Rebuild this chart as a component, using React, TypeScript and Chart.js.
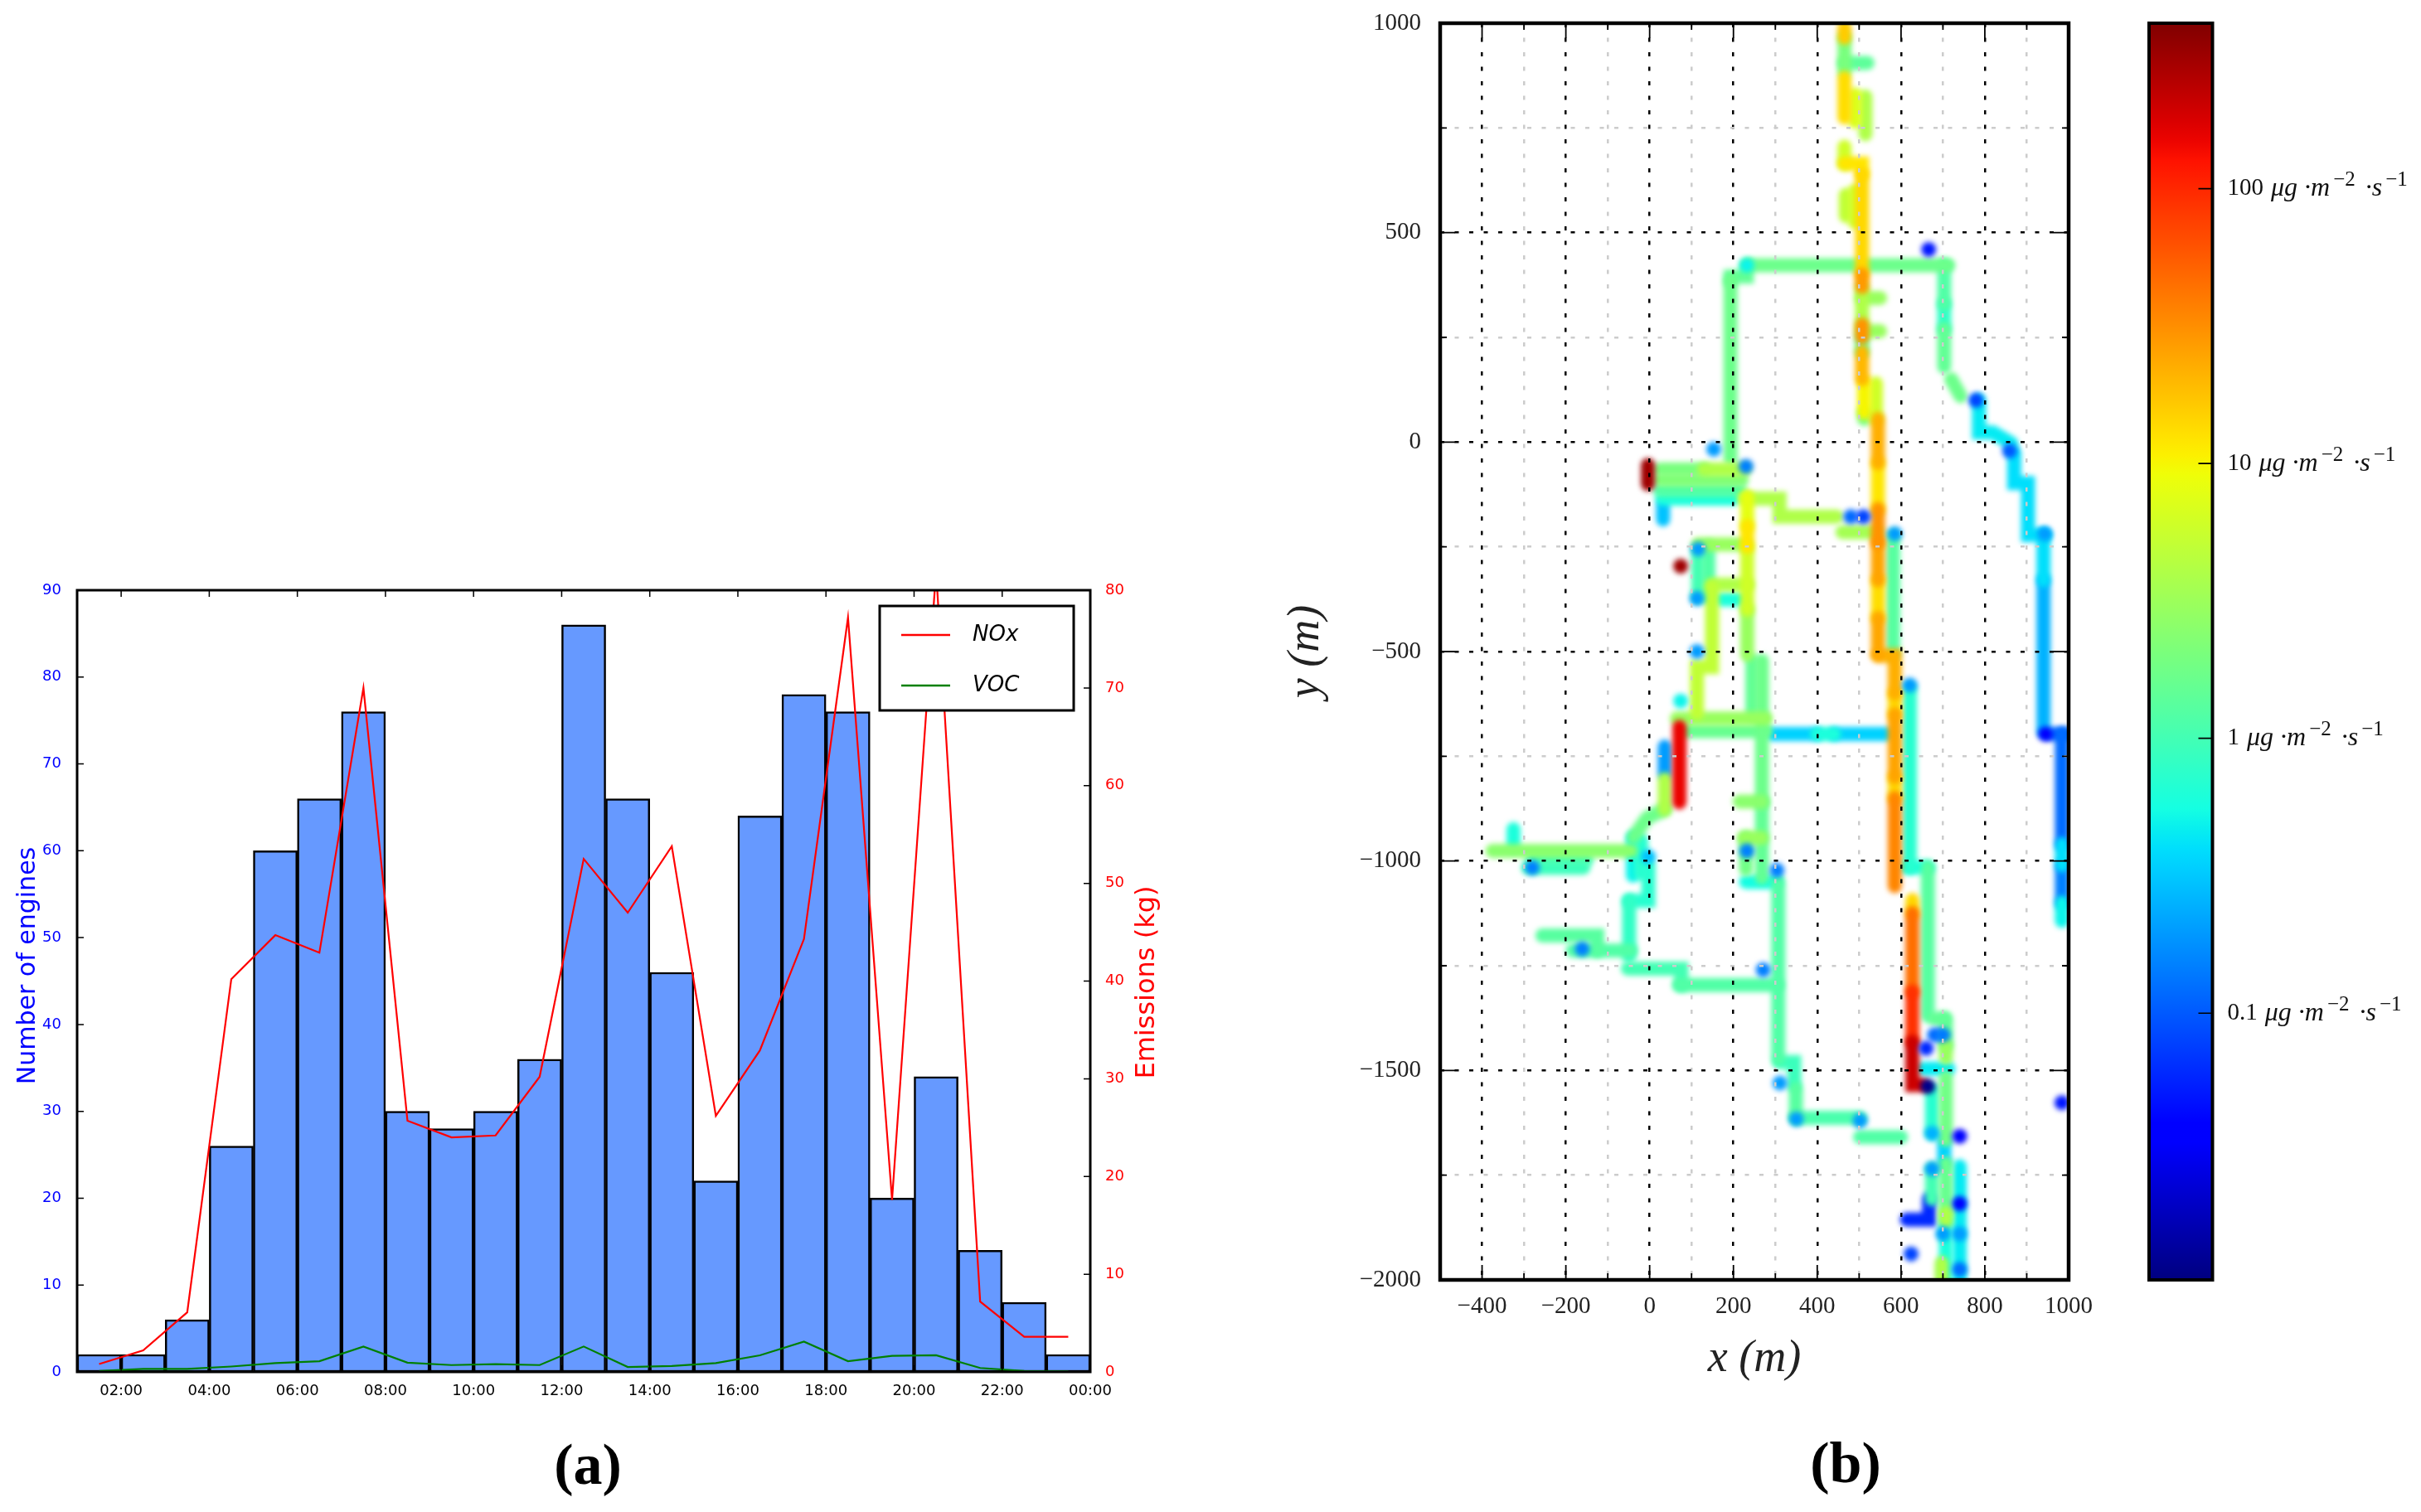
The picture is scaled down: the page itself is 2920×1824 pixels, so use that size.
import { useEffect, useRef } from "react"
import { Chart, registerables } from "chart.js"

Chart.register(...registerables)

// panel (a)
const hourCenters = [1.5, 2.5, 3.5, 4.5, 5.5, 6.5, 7.5, 8.5, 9.5, 10.5, 11.5, 12.5, 13.5, 14.5, 15.5, 16.5, 17.5, 18.5, 19.5, 20.5, 21.5, 22.5, 23.5]
const engines = [2, 2, 6, 26, 60, 66, 76, 30, 28, 30, 36, 86, 66, 46, 22, 64, 78, 76, 20, 34, 14, 8, 2]
const nox = [0.8, 2.2, 6.1, 40.2, 44.7, 42.9, 70, 25.7, 24, 24.2, 30.2, 52.5, 47, 53.8, 26.2, 32.9, 44.3, 77.2, 17.6, 82, 7.2, 3.6, 3.6]
const voc = [0.1, 0.3, 0.3, 0.55, 0.9, 1.1, 2.6, 0.95, 0.7, 0.8, 0.7, 2.6, 0.5, 0.6, 0.9, 1.7, 3.1, 1.1, 1.65, 1.7, 0.4, 0.1, 0.05]
const hourTicks = [2, 4, 6, 8, 10, 12, 14, 16, 18, 20, 22, 24]
const hourLabels = ["02:00", "04:00", "06:00", "08:00", "10:00", "12:00", "14:00", "16:00", "18:00", "20:00", "22:00", "00:00"]

// panel (b): emission traces, v in ug/m2/s, points in metres
type Trace = { v: number; p: number[][] }

const northRoad: Trace[] = [
  { v: 16, p: [[465, 990], [465, 965]] },
  { v: 2, p: [[465, 965], [465, 885]] },
  { v: 1.4, p: [[465, 905], [520, 905]] },
  { v: 13, p: [[465, 870], [465, 775]] },
  { v: 7, p: [[490, 830], [490, 765]] },
  { v: 4, p: [[515, 825], [515, 735]] },
  { v: 6, p: [[465, 705], [465, 665]] },
  { v: 12, p: [[465, 665], [507, 665], [507, 640]] },
  { v: 5, p: [[468, 590], [468, 540]] },
  { v: 6, p: [[490, 600], [490, 525]] },
  { v: 14, p: [[507, 640], [507, 400]] },
  { v: 28, p: [[507, 400], [507, 370]] },
  { v: 4, p: [[507, 370], [507, 280]] },
  { v: 3, p: [[507, 344], [550, 344]] },
  { v: 3, p: [[507, 265], [550, 265]] },
  { v: 30, p: [[507, 280], [507, 250]] },
  { v: 1.5, p: [[507, 250], [507, 215]] },
  { v: 20, p: [[507, 215], [507, 150]] },
  { v: 10, p: [[512, 144], [512, 70]] },
  { v: 6, p: [[540, 140], [540, 55]] },
  { v: 2, p: [[512, 70], [512, 55]] },
]

const mainRoad: Trace[] = [
  { v: 22, p: [[545, 55], [545, -50]] },
  { v: 12, p: [[545, -50], [545, -160]] },
  { v: 30, p: [[545, -160], [545, -240]] },
  { v: 25, p: [[545, -240], [545, -330]] },
  { v: 13, p: [[545, -330], [545, -420]] },
  { v: 24, p: [[545, -420], [545, -505]] },
  { v: 1.3, p: [[581, -225], [581, -505]] },
  { v: 22, p: [[545, -510], [585, -510], [585, -600]] },
  { v: 14, p: [[585, -600], [585, -650]] },
  { v: 25, p: [[585, -650], [585, -800]] },
  { v: 14, p: [[585, -800], [585, -850]] },
  { v: 35, p: [[585, -850], [585, -1060]] },
  { v: 0.7, p: [[621, -590], [621, -1015]] },
  { v: 0.6, p: [[614, -1015], [664, -1015]] },
  { v: 1.3, p: [[664, -1015], [664, -1369]] },
  { v: 14, p: [[627, -1093], [627, -1125]] },
  { v: 45, p: [[627, -1125], [627, -1312]] },
  { v: 90, p: [[627, -1312], [627, -1432]] },
  { v: 200, p: [[627, -1432], [627, -1535], [650, -1535]] },
  { v: 1.5, p: [[700, -1376], [680, -1376]] },
  { v: 1.5, p: [[707, -1376], [707, -1440]] },
  { v: 3, p: [[707, -1440], [707, -1470]] },
  { v: 0.45, p: [[654, -1496], [713, -1496]] },
  { v: 1.8, p: [[707, -1517], [707, -1666]] },
  { v: 0.7, p: [[674, -1546], [674, -1650]] },
  { v: 0.35, p: [[703, -1666], [703, -1722]] },
]

const crossRoads: Trace[] = [
  { v: 1.7, p: [[240, 422], [713, 422]] },
  { v: 1.5, p: [[232, 422], [232, 395], [193, 395], [193, 385]] },
  { v: 1.7, p: [[193, 385], [193, -40]] },
  { v: 1.2, p: [[703, 422], [703, 330]] },
  { v: 0.8, p: [[703, 330], [703, 270]] },
  { v: 1.5, p: [[703, 270], [703, 180]] },
  { v: 4, p: [[226, -135], [310, -135], [310, -178], [446, -178]] },
  { v: 3.5, p: [[460, -215], [541, -215]] },
  { v: 0.35, p: [[292, -697], [400, -697]] },
  { v: 0.6, p: [[400, -697], [440, -697]] },
  { v: 0.35, p: [[440, -697], [570, -697]] },
]

const westBlock: Trace[] = [
  { v: 4, p: [[130, -65], [225, -65]] },
  { v: 2, p: [[25, -65], [130, -65]] },
  { v: 2.2, p: [[25, -90], [220, -90]] },
  { v: 1.2, p: [[25, -115], [215, -115]] },
  { v: 0.6, p: [[30, -135], [200, -135]] },
  { v: 300, p: [[-4, -55], [-4, -100]] },
  { v: 0.3, p: [[32, -150], [32, -185]] },
  { v: 8, p: [[233, -130], [233, -200]] },
  { v: 12, p: [[233, -200], [233, -250]] },
  { v: 6, p: [[233, -250], [233, -400]] },
  { v: 3, p: [[233, -400], [233, -508]] },
  { v: 3, p: [[116, -244], [226, -244]] },
  { v: 1, p: [[116, -260], [116, -370]] },
  { v: 1.2, p: [[140, -250], [140, -370]] },
  { v: 4, p: [[149, -340], [233, -340]] },
  { v: 0.6, p: [[170, -376], [220, -376]] },
  { v: 5, p: [[149, -347], [149, -537], [113, -537], [113, -647]] },
  { v: 3, p: [[65, -660], [277, -660]] },
  { v: 1.6, p: [[85, -690], [277, -690]] },
  { v: 1.5, p: [[245, -522], [245, -650]] },
  { v: 1.7, p: [[268, -522], [268, -860]] },
  { v: 150, p: [[71, -680], [71, -860]] },
  { v: 0.2, p: [[36, -727], [36, -790]] },
  { v: 4, p: [[36, -805], [36, -877]] },
]

const eastRoad: Trace[] = [
  { v: 1.7, p: [[720, 150], [742, 110]] },
  { v: 0.45, p: [[786, 100], [786, 23], [819, 23], [863, -3]] },
  { v: 0.4, p: [[870, -25], [870, -98], [903, -98], [903, -222], [943, -222]] },
  { v: 0.4, p: [[940, -222], [940, -330]] },
  { v: 0.25, p: [[940, -330], [940, -691]] },
  { v: 0.12, p: [[960, -697], [995, -697]] },
  { v: 0.12, p: [[984, -697], [984, -960]] },
  { v: 0.4, p: [[984, -960], [984, -1010]] },
  { v: 0.15, p: [[984, -1010], [984, -1100]] },
  { v: 0.5, p: [[984, -1100], [984, -1143]] },
]

const southWest: Trace[] = [
  { v: 1.7, p: [[35, -877], [-6, -897], [-39, -943]] },
  { v: 2.5, p: [[-375, -976], [-45, -976]] },
  { v: 0.6, p: [[-325, -924], [-325, -963]] },
  { v: 0.9, p: [[-290, -1016], [-158, -1016]] },
  { v: 1, p: [[-280, -996], [-150, -996]] },
  { v: 0.5, p: [[-40, -945], [-40, -1035]] },
  { v: 0.7, p: [[-20, -950], [-20, -1030]] },
  { v: 0.7, p: [[-3, -1010], [-3, -1095], [-49, -1095]] },
  { v: 0.8, p: [[-49, -1095], [-49, -1227]] },
  { v: 1.3, p: [[-256, -1178], [-125, -1178], [-125, -1214]] },
  { v: 1.2, p: [[-184, -1214], [-45, -1214]] },
  { v: 1, p: [[-52, -1257], [76, -1257], [76, -1296]] },
  { v: 1.2, p: [[70, -1296], [304, -1296]] },
  { v: 2.5, p: [[268, -858], [215, -858]] },
  { v: 3, p: [[268, -945], [225, -945]] },
  { v: 1.5, p: [[268, -860], [268, -1040]] },
  { v: 1.8, p: [[230, -945], [230, -1020]] },
  { v: 0.55, p: [[230, -1050], [300, -1050]] },
  { v: 1.2, p: [[307, -1049], [307, -1471]] },
  { v: 0.9, p: [[310, -1480], [345, -1480], [345, -1535]] },
  { v: 1.3, p: [[349, -1544], [349, -1610]] },
  { v: 1.1, p: [[350, -1613], [502, -1613]] },
  { v: 1.2, p: [[502, -1659], [600, -1659]] },
]

const southBlock: Trace[] = [
  { v: 1, p: [[674, -1735], [674, -1807]] },
  { v: 1.6, p: [[707, -1722], [707, -1840]] },
  { v: 4, p: [[707, -1840], [707, -1860]] },
  { v: 0.6, p: [[707, -1860], [707, -1998]] },
  { v: 4, p: [[697, -1960], [697, -1998]] },
  { v: 0.45, p: [[740, -1729], [740, -1998]] },
  { v: 0.06, p: [[667, -1807], [667, -1856], [614, -1856]] },
]

// isolated hot or faint cells: x, y, v
const spots = [
  [666, 460, 0.05], [232, 422, 0.5], [153, -17, 0.2], [230, -58, 0.15], [779, 100, 0.08], [859, -21, 0.1],
  [116, -255, 0.2], [74, -296, 300], [113, -373, 0.2], [113, -500, 0.2], [74, -618, 0.5], [585, -219, 0.2],
  [621, -580, 0.2], [480, -178, 0.12], [510, -178, 0.08], [943, -219, 0.2], [945, -697, 0.04],
  [-280, -1016, 0.15], [-161, -1210, 0.15], [271, -1260, 0.15], [232, -976, 0.15], [304, -1022, 0.15],
  [311, -1530, 0.2], [350, -1616, 0.2], [502, -1620, 0.2], [680, -1415, 0.12], [700, -1415, 0.14],
  [660, -1447, 0.06], [664, -1538, 0.012], [674, -1650, 0.25], [740, -1657, 0.04], [674, -1735, 0.2],
  [740, -1818, 0.04], [700, -1890, 0.2], [740, -1890, 0.2], [740, -1975, 0.12], [624, -1938, 0.08],
  [984, -1577, 0.05], [-3, -990, 0.3],
]

const emissionTraces = [...northRoad, ...mainRoad, ...crossRoads, ...westBlock, ...eastRoad, ...southWest, ...southBlock]

// colour bar
const colorMin = 0.0107
const colorMax = 400
const colorTicks = [0.1, 1, 10, 100]
const unitParts: [string, boolean][] = [["μg ·m", false], ["−2", true], [" ·s", false], ["−1", true]]

const jetRed = [[0, 0], [0.35, 0], [0.66, 1], [0.89, 1], [1, 0.5]]
const jetGreen = [[0, 0], [0.125, 0], [0.375, 1], [0.64, 1], [0.91, 0], [1, 0]]
const jetBlue = [[0, 0.5], [0.11, 1], [0.34, 1], [0.65, 0], [1, 0]]

function channel(stops: number[][], t: number) {
  for (let i = 1; i < stops.length; i++) {
    if (t <= stops[i][0]) {
      const [t0, c0] = stops[i - 1]
      const [t1, c1] = stops[i]
      return Math.round(255 * (c0 + ((c1 - c0) * (t - t0)) / (t1 - t0)))
    }
  }
  return Math.round(255 * stops[stops.length - 1][1])
}

function jet(t: number) {
  const u = Math.min(1, Math.max(0, t))
  return `rgb(${channel(jetRed, u)},${channel(jetGreen, u)},${channel(jetBlue, u)})`
}

function colorOf(v: number) {
  return jet(Math.log10(v / colorMin) / Math.log10(colorMax / colorMin))
}

const serif = "'Liberation Serif', serif"
const sans = "'DejaVu Sans', sans-serif"

// keeps the plot area where it was asked for, whatever the tick labels measure
function fixBox(size: { width?: number; height?: number }) {
  return (scale: any) => {
    if (size.width !== undefined) scale.width = size.width
    if (size.height !== undefined) scale.height = size.height
    scale.paddingTop = 0
    scale.paddingBottom = 0
    scale.paddingLeft = 0
    scale.paddingRight = 0
  }
}

// matplotlib style box with ticks pointing inwards
function framePlugin(lineWidth: number, tickLength: (value: number, axis: string) => number, mirrorY: boolean) {
  return {
    id: "frame",
    afterDraw(chart: any) {
      const { ctx, chartArea: a, scales } = chart
      ctx.save()
      ctx.strokeStyle = "#000"
      ctx.lineWidth = Math.max(1.5, lineWidth / 2.5)
      ctx.beginPath()
      Object.values<any>(scales).forEach((scale) => {
        if (!scale.options.display) return
        scale.ticks.forEach((t: any) => {
          const p = scale.getPixelForValue(t.value)
          const len = tickLength(t.value, scale.axis)
          if (scale.isHorizontal()) {
            ctx.moveTo(p, a.bottom)
            ctx.lineTo(p, a.bottom - len)
            ctx.moveTo(p, a.top)
            ctx.lineTo(p, a.top + len)
            return
          }
          if (scale.position === "left" || mirrorY) {
            ctx.moveTo(a.left, p)
            ctx.lineTo(a.left + len, p)
          }
          if (scale.position === "right" || mirrorY) {
            ctx.moveTo(a.right, p)
            ctx.lineTo(a.right - len, p)
          }
        })
      })
      ctx.stroke()
      ctx.lineWidth = lineWidth
      ctx.strokeRect(a.left, a.top, a.right - a.left, a.bottom - a.top)
      ctx.restore()
    },
  }
}

// axis titles that read bottom to top on both sides, and the legend box inside the plot
const emissionsOverlay = {
  id: "emissionsOverlay",
  afterDraw(chart: any) {
    const { ctx } = chart
    const vertical = (text: string, x: number, y: number, color: string, size: number) => {
      ctx.save()
      ctx.translate(x, y)
      ctx.rotate(-Math.PI / 2)
      ctx.fillStyle = color
      ctx.font = `${size}px ${sans}`
      ctx.textAlign = "center"
      ctx.textBaseline = "middle"
      ctx.fillText(text, 0, 0)
      ctx.restore()
    }
    vertical("Number of engines", 34, 485, "#0000ff", 30)
    vertical("Emissions (kg)", 1384, 505, "#ff0000", 32)

    ctx.save()
    ctx.fillStyle = "#fff"
    ctx.strokeStyle = "#000"
    ctx.lineWidth = 3
    ctx.fillRect(1061, 51, 234, 126)
    ctx.strokeRect(1061, 51, 234, 126)
    ctx.font = `italic 26px ${sans}`
    ctx.textBaseline = "middle"
    chart.data.datasets
      .filter((d: any) => d.type === "line")
      .forEach((d: any, i: number) => {
        const y = 86 + i * 61
        ctx.strokeStyle = d.borderColor
        ctx.lineWidth = 2.5
        ctx.beginPath()
        ctx.moveTo(1087, y)
        ctx.lineTo(1146, y)
        ctx.stroke()
        ctx.fillStyle = "#000"
        ctx.fillText(d.label, 1173, y)
      })
    ctx.restore()
  },
}

// bicubic look of the emission raster
const softenPlugin = {
  id: "soften",
  beforeDatasetsDraw(chart: any) {
    chart.ctx.save()
    chart.ctx.filter = "blur(3px)"
  },
  afterDatasetsDraw(chart: any) {
    chart.ctx.restore()
  },
}

// digits upright from the axis, unit in italics behind them, exponents raised
const unitPlugin = {
  id: "units",
  afterDraw(chart: any) {
    const { ctx, scales } = chart
    const y = scales.y
    ctx.save()
    ctx.textBaseline = "middle"
    ctx.fillStyle = "#111"
    y.ticks.forEach((t: any) => {
      const py = y.getPixelForValue(t.value)
      ctx.font = `29px ${serif}`
      let x = y.left + 10 + ctx.measureText(String(t.value)).width + 17
      unitParts.forEach(([text, raised]) => {
        ctx.font = raised ? `25px ${serif}` : `italic 32px ${serif}`
        ctx.fillText(text, x, raised ? py - 10 : py)
        x += ctx.measureText(text).width + 4
      })
    })
    ctx.restore()
  },
}

function EmissionsChart() {
  const chartRef = useRef<HTMLCanvasElement>(null)

  useEffect(() => {
    if (!chartRef.current) return
    const chart = new Chart(chartRef.current, {
      type: "bar",
      data: {
        datasets: [
          {
            type: "line",
            label: "NOx",
            data: hourCenters.map((x, i) => ({ x, y: nox[i] })),
            yAxisID: "y1",
            borderColor: "#ff0000",
            borderWidth: 2.2,
            pointRadius: 0,
            tension: 0,
            order: 1,
          },
          {
            type: "line",
            label: "VOC",
            data: hourCenters.map((x, i) => ({ x, y: voc[i] })),
            yAxisID: "y1",
            borderColor: "#008000",
            borderWidth: 2.2,
            pointRadius: 0,
            tension: 0,
            order: 2,
          },
          {
            type: "bar",
            label: "Engines",
            data: hourCenters.map((x, i) => ({ x, y: engines[i] })),
            yAxisID: "y",
            backgroundColor: "#6699ff",
            borderColor: "#000",
            borderWidth: 2.5,
            borderSkipped: false,
            barPercentage: 1,
            categoryPercentage: 1,
            order: 3,
          },
        ],
      } as any,
      options: {
        responsive: false,
        animation: false,
        layout: { padding: { top: 32 } },
        plugins: { legend: { display: false }, tooltip: { enabled: false } },
        scales: {
          x: {
            type: "linear",
            min: 1,
            max: 24,
            offset: false,
            grid: { display: false },
            border: { display: false },
            afterBuildTicks: (scale: any) => {
              scale.ticks = hourTicks.map((value) => ({ value }))
            },
            afterFit: fixBox({ height: 169 }),
            ticks: {
              autoSkip: false,
              maxRotation: 0,
              padding: 5,
              color: "#000",
              font: { family: sans, size: 18 },
              callback: (value: any) => hourLabels[hourTicks.indexOf(Number(value))],
            },
          },
          y: {
            position: "left",
            min: 0,
            max: 90,
            grid: { display: false },
            border: { display: false },
            afterFit: fixBox({ width: 93 }),
            ticks: { stepSize: 10, padding: 11, color: "#0000ff", font: { family: sans, size: 18 } },
          },
          y1: {
            position: "right",
            min: 0,
            max: 80,
            grid: { display: false },
            border: { display: false },
            afterFit: fixBox({ width: 145 }),
            ticks: { stepSize: 10, padding: 10, color: "#ff0000", font: { family: sans, size: 18 } },
          },
        },
      },
      plugins: [framePlugin(3, () => 8, false), emissionsOverlay],
    } as any)
    return () => chart.destroy()
  }, [])

  return <canvas ref={chartRef} width={1460} height={1144} style={{ position: "absolute", left: 0, top: 680 }} />
}

function ConcentrationMap() {
  const chartRef = useRef<HTMLCanvasElement>(null)

  useEffect(() => {
    if (!chartRef.current) return
    const ordered = [...emissionTraces].sort((a, b) => b.v - a.v)
    const chart = new Chart(chartRef.current, {
      type: "scatter",
      data: {
        datasets: [
          {
            data: spots.map(([x, y]) => ({ x, y })),
            pointRadius: 9,
            pointBorderWidth: 0,
            pointBackgroundColor: spots.map(([, , v]) => colorOf(v)),
            showLine: false,
          },
          ...ordered.map((t) => ({
            data: t.p.map(([x, y]) => ({ x, y })),
            showLine: true,
            borderColor: colorOf(t.v),
            borderWidth: 17,
            borderCapStyle: "round",
            borderJoinStyle: "miter",
            pointRadius: 0,
            tension: 0,
          })),
        ],
      } as any,
      options: {
        responsive: false,
        animation: false,
        layout: { padding: { top: 28, right: 45 } },
        plugins: { legend: { display: false }, tooltip: { enabled: false } },
        scales: {
          x: {
            type: "linear",
            min: -500,
            max: 1000,
            grid: {
              z: 1,
              lineWidth: 2.5,
              drawTicks: false,
              color: (c: any) => (c.tick.value % 200 === 0 ? "#000" : "#cccccc"),
            },
            border: { display: false, dash: [5, 12.5] },
            afterFit: fixBox({ height: 280 }),
            ticks: {
              stepSize: 100,
              autoSkip: false,
              maxRotation: 0,
              padding: 15,
              color: "#222",
              font: { family: serif, size: 29 },
              callback: (value: any) => (Number(value) % 200 === 0 ? String(value).replace("-", "−") : ""),
            },
            title: {
              display: true,
              text: "x (m)",
              color: "#222",
              font: { family: serif, size: 54, style: "italic" },
              padding: { top: 0, bottom: 152 },
            },
          },
          y: {
            type: "linear",
            min: -2000,
            max: 1000,
            grid: {
              z: 1,
              lineWidth: 2.5,
              drawTicks: false,
              color: (c: any) => (c.tick.value % 500 === 0 ? "#000" : "#cccccc"),
            },
            border: { display: false, dash: [5, 12.5] },
            afterFit: fixBox({ width: 197 }),
            ticks: {
              stepSize: 250,
              autoSkip: false,
              padding: 23,
              color: "#222",
              font: { family: serif, size: 29 },
              callback: (value: any) => (Number(value) % 500 === 0 ? String(value).replace("-", "−") : ""),
            },
            title: {
              display: true,
              text: "y (m)",
              color: "#222",
              font: { family: serif, size: 54, style: "italic" },
              padding: { top: 3, bottom: 0 },
            },
          },
        },
      },
      plugins: [softenPlugin, framePlugin(4.5, (v, axis) => (v % (axis === "x" ? 200 : 500) === 0 ? 18 : 8), true)],
    } as any)
    return () => chart.destroy()
  }, [])

  return <canvas ref={chartRef} width={1000} height={1824} style={{ position: "absolute", left: 1540, top: 0 }} />
}

function ColorBar() {
  const chartRef = useRef<HTMLCanvasElement>(null)

  useEffect(() => {
    if (!chartRef.current) return
    const chart = new Chart(chartRef.current, {
      type: "bar",
      data: {
        labels: [""],
        datasets: [
          {
            data: [[colorMin, colorMax]],
            barPercentage: 1,
            categoryPercentage: 1,
            borderWidth: 0,
            backgroundColor: (c: any) => {
              const a = c.chart.chartArea
              if (!a) return "#000"
              const g = c.chart.ctx.createLinearGradient(0, a.bottom, 0, a.top)
              for (let i = 0; i <= 64; i++) g.addColorStop(i / 64, jet(i / 64))
              return g
            },
          },
        ],
      } as any,
      options: {
        responsive: false,
        animation: false,
        layout: { padding: { top: 28, bottom: 56, left: 52 } },
        plugins: { legend: { display: false }, tooltip: { enabled: false } },
        scales: {
          x: { display: false },
          y: {
            type: "logarithmic",
            position: "right",
            min: colorMin,
            max: colorMax,
            grid: { display: false },
            border: { display: false },
            afterBuildTicks: (scale: any) => {
              scale.ticks = colorTicks.map((value) => ({ value }))
            },
            afterFit: fixBox({ width: 251.5 }),
            ticks: {
              autoSkip: false,
              padding: 10,
              color: "#111",
              font: { family: serif, size: 29 },
              callback: (value: any) => String(value),
            },
          },
        },
      },
      plugins: [framePlugin(4, () => 17, false), unitPlugin],
    } as any)
    return () => chart.destroy()
  }, [])

  return <canvas ref={chartRef} width={380} height={1600} style={{ position: "absolute", left: 2540, top: 0 }} />
}

const captionStyle = {
  position: "absolute",
  transform: "translate(-50%, -50%)",
  fontFamily: serif,
  fontWeight: "bold",
  fontSize: 70,
  lineHeight: 1,
  color: "#000",
} as const

export default function App() {
  return (
    <div style={{ position: "absolute", left: 0, top: 0, width: 2920, height: 1824, background: "#fff", overflow: "hidden" }}>
      <EmissionsChart />
      <ConcentrationMap />
      <ColorBar />
      <div style={{ ...captionStyle, left: 709, top: 1767 }}>(a)</div>
      <div style={{ ...captionStyle, left: 2226, top: 1765 }}>(b)</div>
    </div>
  )
}
